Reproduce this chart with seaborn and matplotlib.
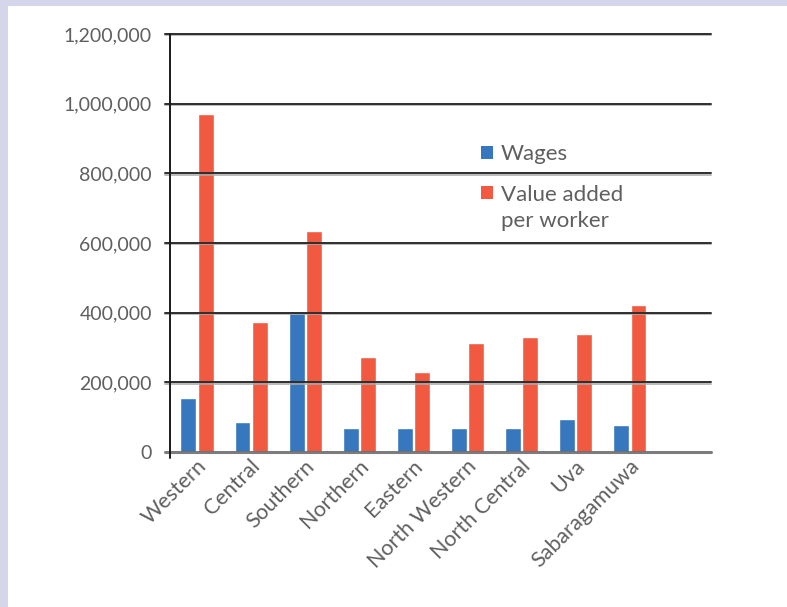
import matplotlib
matplotlib.use("Agg")
import matplotlib.pyplot as plt
import matplotlib.patheffects as pe
from matplotlib.patches import Rectangle, Patch
from matplotlib.legend_handler import HandlerPatch
from matplotlib.ticker import FuncFormatter
from matplotlib.transforms import ScaledTranslation
import seaborn as sns
import pandas as pd

# Provincial figures (rupees)
provinces = ["Western", "Central", "Southern", "Northern", "Eastern",
             "North Western", "North Central", "Uva", "Sabaragamuwa"]
wages = [155000, 86000, 400000, 69000, 69000, 69000, 69000, 95000, 78000]
value_added = [970000, 373000, 634000, 273000, 230000, 313000, 330000, 339000, 422000]
series_names = ["Wages", "Value added\nper worker"]
y_ticks = [0, 200000, 400000, 600000, 800000, 1000000, 1200000]

BLUE = "#3777BD"
RED = "#F15A40"
TEXT = "#5F5F5F"
FONT = ["Lato", "DejaVu Sans"]

df = pd.DataFrame({
    "Province": provinces * 2,
    "Series": [series_names[0]] * len(provinces) + [series_names[1]] * len(provinces),
    "Value": wages + value_added,
})

sns.set_style("white")
plt.rcParams["font.family"] = FONT

fig = plt.figure(figsize=(7.87, 6.07), dpi=100)
fig.patch.set_facecolor("#D6D6EB")
fig.patches.append(Rectangle((8 / 787, 0), 1, 1 - 6 / 607, transform=fig.transFigure,
                             facecolor="white", edgecolor="none", zorder=-10))

ax = fig.add_axes([170 / 787, 1 - 452 / 607, (711 - 170) / 787, (452 - 34) / 607])
ax.set_facecolor("none")

sns.barplot(data=df, x="Province", y="Value", hue="Series", order=provinces,
            hue_order=series_names, palette=[BLUE, RED], width=0.64, gap=0.08,
            errorbar=None, saturation=1, legend=False, ax=ax, zorder=2)

ax.set_xlim(-0.5, len(provinces) + 0.5)
ax.set_ylim(0, 1200000)
ax.set_yticks(y_ticks)
ax.yaxis.set_major_formatter(FuncFormatter(lambda v, p: f"{int(v):,}"))
ax.set_xlabel("")
ax.set_ylabel("")

for s in ax.spines.values():
    s.set_visible(False)

# horizontal rules with a soft shadow beneath
shadow = [pe.SimpleLineShadow(offset=(0, -1.0), shadow_color="#aaaaaa", alpha=0.8), pe.Normal()]
for v in y_ticks[1:]:
    ax.axhline(v, xmin=-0.01, xmax=1, color="#2E2E2E", lw=1.4, zorder=3,
               clip_on=False, path_effects=shadow)
ax.axhline(0, xmin=-0.01, xmax=1, color="#6E6E6E", lw=2.2, zorder=4, clip_on=False,
           alpha=0.9)
ax.axvline(-0.5, ymin=-0.015, ymax=1, color="#1A1A1A", lw=1.4, zorder=5, clip_on=False)

ax.tick_params(axis="y", length=0, pad=13, labelsize=14, labelcolor=TEXT)
ax.tick_params(axis="x", length=0, pad=8, labelsize=15.5, labelcolor=TEXT)
shift = ScaledTranslation(6 / 100, 0, fig.dpi_scale_trans)
for lab in ax.get_xticklabels():
    lab.set_rotation(45)
    lab.set_ha("right")
    lab.set_va("center")
    lab.set_rotation_mode("anchor")
    lab.set_transform(lab.get_transform() + shift)


class TopAlignedPatch(HandlerPatch):
    """Square swatch lifted to sit beside the first line of a two-line label."""

    def __init__(self, lift, **kw):
        super().__init__(**kw)
        self.lift = lift

    def create_artists(self, legend, orig_handle, xdescent, ydescent, width, height,
                       fontsize, trans):
        r = Rectangle((-xdescent, -ydescent + self.lift), width, height,
                      facecolor=orig_handle.get_facecolor(), edgecolor="none",
                      transform=trans)
        return [r]


handles = [Patch(facecolor=BLUE, edgecolor="none"), Patch(facecolor=RED, edgecolor="none")]
leg = fig.legend(handles, series_names, loc="upper left",
                 bbox_to_anchor=(461 / 787, 1 - 124 / 607), frameon=False,
                 handlelength=0.54, handleheight=0.54, handletextpad=0.36,
                 labelspacing=0.95, prop={"size": 16},
                 handler_map={handles[1]: TopAlignedPatch(lift=11)})
for t in leg.get_texts():
    t.set_color(TEXT)
    t.set_linespacing(1.34)

fig.savefig("out.png", dpi=100, facecolor=fig.get_facecolor())
